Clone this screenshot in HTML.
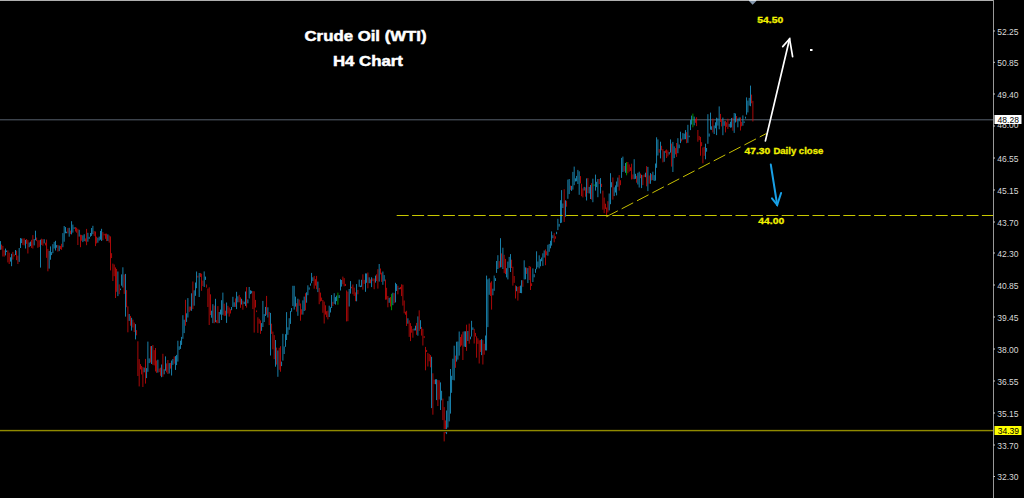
<!DOCTYPE html>
<html><head><meta charset="utf-8"><style>
html,body{margin:0;padding:0;background:#000;width:1024px;height:498px;overflow:hidden}
svg{position:absolute;left:0;top:0;display:block}
.ax{font-family:"Liberation Sans", sans-serif;font-size:9.3px;fill:#d8d8d8}
.t{font-family:"Liberation Sans", sans-serif;font-weight:bold;fill:#fff;font-size:15px;stroke:#fff;stroke-width:0.5px}
.y{font-family:"Liberation Sans", sans-serif;font-weight:bold;fill:#f0f000;font-size:9px;stroke:#f0f000;stroke-width:0.3px}
</style></head><body>
<svg width="1024" height="498" viewBox="0 0 1024 498">
<rect x="0" y="0" width="1024" height="498" fill="#000"/>
<rect x="0" y="0" width="993" height="1" fill="#b0b0b0"/>
<polygon points="749,1 756.4,1 752.6,4.8" fill="#8497ac"/>
<rect x="749" y="0" width="7.4" height="1" fill="#dde3ea"/>
<rect x="0" y="119" width="993" height="1" fill="#3c434c"/><rect x="0" y="120" width="993" height="1" fill="#1a1d21"/>
<g>
<rect x="0.00" y="241.1" width="0.8" height="8.7" fill="#1e9ed2"/>
<rect x="1.25" y="244.6" width="0.8" height="5.0" fill="#d20a0a"/>
<rect x="2.50" y="245.9" width="0.8" height="10.6" fill="#d20a0a"/>
<rect x="3.75" y="250.3" width="0.8" height="6.3" fill="#d20a0a"/>
<rect x="5.00" y="248.6" width="0.8" height="6.8" fill="#1e9ed2"/>
<rect x="6.25" y="250.5" width="0.8" height="1.5" fill="#1e9ed2"/>
<rect x="7.50" y="250.4" width="0.8" height="12.0" fill="#d20a0a"/>
<rect x="8.75" y="252.6" width="0.8" height="11.4" fill="#d20a0a"/>
<rect x="10.00" y="257.3" width="0.8" height="4.3" fill="#1e9ed2"/>
<rect x="11.25" y="253.8" width="0.8" height="12.4" fill="#1e9ed2"/>
<rect x="12.50" y="251.9" width="0.8" height="7.7" fill="#d20a0a"/>
<rect x="13.75" y="254.4" width="0.8" height="2.0" fill="#d20a0a"/>
<rect x="15.00" y="250.0" width="0.8" height="5.0" fill="#1e9ed2"/>
<rect x="16.25" y="250.7" width="0.8" height="9.5" fill="#d20a0a"/>
<rect x="17.50" y="255.6" width="0.8" height="8.4" fill="#d20a0a"/>
<rect x="18.75" y="248.0" width="0.8" height="13.9" fill="#1e9ed2"/>
<rect x="20.00" y="238.1" width="0.8" height="9.9" fill="#1e9ed2"/>
<rect x="21.25" y="238.5" width="0.8" height="4.6" fill="#1e9ed2"/>
<rect x="22.50" y="238.5" width="0.8" height="6.4" fill="#d20a0a"/>
<rect x="23.75" y="238.3" width="0.8" height="7.1" fill="#d20a0a"/>
<rect x="25.00" y="239.9" width="0.8" height="8.6" fill="#1e9ed2"/>
<rect x="26.25" y="239.0" width="0.8" height="4.8" fill="#d20a0a"/>
<rect x="27.50" y="240.1" width="0.8" height="13.4" fill="#d20a0a"/>
<rect x="28.75" y="242.5" width="0.8" height="4.7" fill="#1e9ed2"/>
<rect x="30.00" y="241.6" width="0.8" height="4.5" fill="#1e9ed2"/>
<rect x="31.25" y="239.8" width="0.8" height="8.1" fill="#d20a0a"/>
<rect x="32.50" y="235.1" width="0.8" height="13.5" fill="#d20a0a"/>
<rect x="33.75" y="239.0" width="0.8" height="6.4" fill="#1e9ed2"/>
<rect x="35.00" y="230.7" width="0.8" height="9.5" fill="#1e9ed2"/>
<rect x="36.25" y="237.6" width="0.8" height="3.5" fill="#d20a0a"/>
<rect x="37.50" y="240.3" width="0.8" height="7.5" fill="#d20a0a"/>
<rect x="38.75" y="240.2" width="0.8" height="6.7" fill="#d20a0a"/>
<rect x="40.00" y="239.7" width="0.8" height="27.9" fill="#1e9ed2"/>
<rect x="41.25" y="238.7" width="0.8" height="6.2" fill="#d20a0a"/>
<rect x="42.50" y="239.2" width="0.8" height="6.5" fill="#d20a0a"/>
<rect x="43.75" y="239.2" width="0.8" height="4.2" fill="#1e9ed2"/>
<rect x="45.00" y="242.7" width="0.8" height="2.7" fill="#d20a0a"/>
<rect x="46.25" y="239.6" width="0.8" height="18.2" fill="#d20a0a"/>
<rect x="47.50" y="248.9" width="0.8" height="22.4" fill="#d20a0a"/>
<rect x="48.75" y="250.9" width="0.8" height="17.7" fill="#1e9ed2"/>
<rect x="50.00" y="246.4" width="0.8" height="13.3" fill="#1e9ed2"/>
<rect x="51.25" y="252.1" width="0.8" height="3.0" fill="#1e9ed2"/>
<rect x="52.50" y="244.2" width="0.8" height="9.0" fill="#1e9ed2"/>
<rect x="53.75" y="241.9" width="0.8" height="6.6" fill="#1e9ed2"/>
<rect x="55.00" y="240.8" width="0.8" height="9.7" fill="#1e9ed2"/>
<rect x="56.25" y="245.1" width="0.8" height="2.6" fill="#1e9ed2"/>
<rect x="57.50" y="244.9" width="0.8" height="6.7" fill="#d20a0a"/>
<rect x="58.75" y="245.6" width="0.8" height="5.5" fill="#1e9ed2"/>
<rect x="60.00" y="245.9" width="0.8" height="3.2" fill="#d20a0a"/>
<rect x="61.25" y="243.8" width="0.8" height="6.0" fill="#d20a0a"/>
<rect x="62.50" y="233.1" width="0.8" height="14.1" fill="#1e9ed2"/>
<rect x="63.75" y="226.0" width="0.8" height="15.7" fill="#1e9ed2"/>
<rect x="65.00" y="227.1" width="0.8" height="6.2" fill="#1e9ed2"/>
<rect x="66.25" y="231.7" width="0.8" height="1.5" fill="#1e9ed2"/>
<rect x="67.50" y="228.1" width="0.8" height="5.3" fill="#d20a0a"/>
<rect x="68.75" y="227.8" width="0.8" height="8.9" fill="#1e9ed2"/>
<rect x="70.00" y="230.6" width="0.8" height="3.5" fill="#d20a0a"/>
<rect x="71.25" y="221.2" width="0.8" height="13.2" fill="#1e9ed2"/>
<rect x="72.50" y="224.6" width="0.8" height="8.0" fill="#1e9ed2"/>
<rect x="73.75" y="227.3" width="0.8" height="1.5" fill="#1e9ed2"/>
<rect x="75.00" y="227.1" width="0.8" height="4.4" fill="#d20a0a"/>
<rect x="76.25" y="227.7" width="0.8" height="5.0" fill="#d20a0a"/>
<rect x="77.50" y="228.8" width="0.8" height="16.2" fill="#d20a0a"/>
<rect x="78.75" y="229.8" width="0.8" height="6.8" fill="#1e9ed2"/>
<rect x="80.00" y="234.7" width="0.8" height="12.5" fill="#d20a0a"/>
<rect x="81.25" y="234.9" width="0.8" height="5.8" fill="#d20a0a"/>
<rect x="82.50" y="235.3" width="0.8" height="6.8" fill="#1e9ed2"/>
<rect x="83.75" y="234.2" width="0.8" height="6.9" fill="#1e9ed2"/>
<rect x="85.00" y="238.4" width="0.8" height="3.1" fill="#d20a0a"/>
<rect x="86.25" y="228.9" width="0.8" height="16.3" fill="#d20a0a"/>
<rect x="87.50" y="232.8" width="0.8" height="8.9" fill="#1e9ed2"/>
<rect x="88.75" y="236.8" width="0.8" height="2.1" fill="#1e9ed2"/>
<rect x="90.00" y="233.0" width="0.8" height="3.7" fill="#1e9ed2"/>
<rect x="91.25" y="228.0" width="0.8" height="7.9" fill="#1e9ed2"/>
<rect x="92.50" y="225.8" width="0.8" height="8.4" fill="#1e9ed2"/>
<rect x="93.75" y="231.1" width="0.8" height="5.0" fill="#d20a0a"/>
<rect x="95.00" y="231.5" width="0.8" height="14.6" fill="#d20a0a"/>
<rect x="96.25" y="236.7" width="0.8" height="6.7" fill="#d20a0a"/>
<rect x="97.50" y="237.7" width="0.8" height="5.0" fill="#1e9ed2"/>
<rect x="98.75" y="236.6" width="0.8" height="4.0" fill="#1e9ed2"/>
<rect x="100.00" y="230.9" width="0.8" height="8.8" fill="#1e9ed2"/>
<rect x="101.25" y="228.8" width="0.8" height="12.2" fill="#1e9ed2"/>
<rect x="102.50" y="232.1" width="0.8" height="8.1" fill="#d20a0a"/>
<rect x="103.75" y="233.8" width="0.8" height="1.6" fill="#d20a0a"/>
<rect x="105.00" y="233.7" width="0.8" height="5.1" fill="#d20a0a"/>
<rect x="106.25" y="233.6" width="0.8" height="7.5" fill="#d20a0a"/>
<rect x="107.50" y="234.4" width="0.8" height="6.6" fill="#1e9ed2"/>
<rect x="108.75" y="235.5" width="0.8" height="7.1" fill="#d20a0a"/>
<rect x="110.00" y="236.4" width="0.8" height="34.0" fill="#d20a0a"/>
<rect x="111.25" y="253.2" width="0.8" height="4.9" fill="#d20a0a"/>
<rect x="112.50" y="263.6" width="0.8" height="17.4" fill="#d20a0a"/>
<rect x="113.75" y="264.5" width="0.8" height="11.7" fill="#d20a0a"/>
<rect x="115.00" y="267.4" width="0.8" height="30.6" fill="#d20a0a"/>
<rect x="116.25" y="268.9" width="0.8" height="22.9" fill="#d20a0a"/>
<rect x="117.50" y="271.5" width="0.8" height="24.6" fill="#1e9ed2"/>
<rect x="118.75" y="284.4" width="0.8" height="9.8" fill="#d20a0a"/>
<rect x="120.00" y="288.6" width="0.8" height="1.5" fill="#1e9ed2"/>
<rect x="121.25" y="274.4" width="0.8" height="11.3" fill="#1e9ed2"/>
<rect x="122.50" y="267.3" width="0.8" height="20.2" fill="#1e9ed2"/>
<rect x="123.75" y="274.5" width="0.8" height="19.4" fill="#d20a0a"/>
<rect x="125.00" y="273.9" width="0.8" height="42.7" fill="#1e9ed2"/>
<rect x="126.25" y="290.1" width="0.8" height="17.1" fill="#d20a0a"/>
<rect x="127.50" y="306.4" width="0.8" height="25.9" fill="#d20a0a"/>
<rect x="128.75" y="314.0" width="0.8" height="6.9" fill="#1e9ed2"/>
<rect x="130.00" y="315.9" width="0.8" height="9.8" fill="#d20a0a"/>
<rect x="131.25" y="317.8" width="0.8" height="12.8" fill="#1e9ed2"/>
<rect x="132.50" y="319.6" width="0.8" height="7.9" fill="#d20a0a"/>
<rect x="133.75" y="322.6" width="0.8" height="9.4" fill="#d20a0a"/>
<rect x="135.00" y="324.1" width="0.8" height="15.3" fill="#1e9ed2"/>
<rect x="136.25" y="330.1" width="0.8" height="5.2" fill="#d20a0a"/>
<rect x="137.50" y="341.3" width="0.8" height="34.7" fill="#d20a0a"/>
<rect x="138.75" y="359.1" width="0.8" height="27.3" fill="#d20a0a"/>
<rect x="140.00" y="364.1" width="0.8" height="5.3" fill="#d20a0a"/>
<rect x="141.25" y="365.9" width="0.8" height="8.5" fill="#d20a0a"/>
<rect x="142.50" y="367.1" width="0.8" height="19.9" fill="#d20a0a"/>
<rect x="143.75" y="367.6" width="0.8" height="4.7" fill="#1e9ed2"/>
<rect x="145.00" y="358.9" width="0.8" height="24.7" fill="#d20a0a"/>
<rect x="146.25" y="368.1" width="0.8" height="10.0" fill="#1e9ed2"/>
<rect x="147.50" y="341.6" width="0.8" height="30.2" fill="#1e9ed2"/>
<rect x="148.75" y="358.4" width="0.8" height="4.7" fill="#1e9ed2"/>
<rect x="150.00" y="346.2" width="0.8" height="16.3" fill="#d20a0a"/>
<rect x="151.25" y="346.0" width="0.8" height="18.0" fill="#1e9ed2"/>
<rect x="152.50" y="345.0" width="0.8" height="19.8" fill="#d20a0a"/>
<rect x="153.75" y="350.1" width="0.8" height="15.3" fill="#d20a0a"/>
<rect x="155.00" y="348.0" width="0.8" height="23.4" fill="#d20a0a"/>
<rect x="156.25" y="360.5" width="0.8" height="12.4" fill="#d20a0a"/>
<rect x="157.50" y="359.7" width="0.8" height="12.9" fill="#1e9ed2"/>
<rect x="158.75" y="368.5" width="0.8" height="3.6" fill="#d20a0a"/>
<rect x="160.00" y="367.7" width="0.8" height="8.1" fill="#d20a0a"/>
<rect x="161.25" y="364.5" width="0.8" height="12.7" fill="#1e9ed2"/>
<rect x="162.50" y="353.8" width="0.8" height="23.0" fill="#d20a0a"/>
<rect x="163.75" y="369.2" width="0.8" height="5.1" fill="#1e9ed2"/>
<rect x="165.00" y="356.4" width="0.8" height="14.3" fill="#1e9ed2"/>
<rect x="166.25" y="363.4" width="0.8" height="9.0" fill="#d20a0a"/>
<rect x="167.50" y="360.0" width="0.8" height="14.0" fill="#d20a0a"/>
<rect x="168.75" y="363.1" width="0.8" height="10.4" fill="#1e9ed2"/>
<rect x="170.00" y="362.9" width="0.8" height="5.7" fill="#d20a0a"/>
<rect x="171.25" y="360.5" width="0.8" height="15.0" fill="#1e9ed2"/>
<rect x="172.50" y="359.0" width="0.8" height="5.9" fill="#1e9ed2"/>
<rect x="173.75" y="356.5" width="0.8" height="7.2" fill="#d20a0a"/>
<rect x="175.00" y="356.1" width="0.8" height="13.8" fill="#1e9ed2"/>
<rect x="176.25" y="354.9" width="0.8" height="10.2" fill="#1e9ed2"/>
<rect x="177.50" y="340.7" width="0.8" height="20.9" fill="#1e9ed2"/>
<rect x="178.75" y="346.3" width="0.8" height="3.6" fill="#1e9ed2"/>
<rect x="180.00" y="340.7" width="0.8" height="8.2" fill="#1e9ed2"/>
<rect x="181.25" y="336.9" width="0.8" height="8.0" fill="#1e9ed2"/>
<rect x="182.50" y="315.2" width="0.8" height="23.6" fill="#1e9ed2"/>
<rect x="183.75" y="319.7" width="0.8" height="13.4" fill="#1e9ed2"/>
<rect x="185.00" y="299.8" width="0.8" height="25.9" fill="#d20a0a"/>
<rect x="186.25" y="313.3" width="0.8" height="8.6" fill="#1e9ed2"/>
<rect x="187.50" y="298.1" width="0.8" height="19.4" fill="#1e9ed2"/>
<rect x="188.75" y="306.5" width="0.8" height="5.4" fill="#d20a0a"/>
<rect x="190.00" y="306.6" width="0.8" height="3.9" fill="#d20a0a"/>
<rect x="191.25" y="293.3" width="0.8" height="17.5" fill="#1e9ed2"/>
<rect x="192.50" y="281.5" width="0.8" height="27.5" fill="#d20a0a"/>
<rect x="193.75" y="290.3" width="0.8" height="15.4" fill="#1e9ed2"/>
<rect x="195.00" y="282.5" width="0.8" height="13.3" fill="#1e9ed2"/>
<rect x="196.25" y="271.5" width="0.8" height="16.7" fill="#1e9ed2"/>
<rect x="197.50" y="275.7" width="0.8" height="1.9" fill="#d20a0a"/>
<rect x="198.75" y="273.0" width="0.8" height="24.0" fill="#1e9ed2"/>
<rect x="200.00" y="273.1" width="0.8" height="3.8" fill="#d20a0a"/>
<rect x="201.25" y="273.7" width="0.8" height="17.1" fill="#d20a0a"/>
<rect x="202.50" y="280.6" width="0.8" height="5.4" fill="#d20a0a"/>
<rect x="203.75" y="271.4" width="0.8" height="15.6" fill="#1e9ed2"/>
<rect x="205.00" y="276.6" width="0.8" height="3.3" fill="#1e9ed2"/>
<rect x="206.25" y="284.5" width="0.8" height="3.2" fill="#d20a0a"/>
<rect x="207.50" y="288.6" width="0.8" height="18.4" fill="#d20a0a"/>
<rect x="208.75" y="287.3" width="0.8" height="37.7" fill="#d20a0a"/>
<rect x="210.00" y="294.3" width="0.8" height="20.8" fill="#d20a0a"/>
<rect x="211.25" y="310.7" width="0.8" height="7.0" fill="#1e9ed2"/>
<rect x="212.50" y="304.2" width="0.8" height="18.9" fill="#1e9ed2"/>
<rect x="213.75" y="305.6" width="0.8" height="17.7" fill="#d20a0a"/>
<rect x="215.00" y="298.8" width="0.8" height="23.4" fill="#1e9ed2"/>
<rect x="216.25" y="320.1" width="0.8" height="2.6" fill="#d20a0a"/>
<rect x="217.50" y="306.1" width="0.8" height="17.2" fill="#d20a0a"/>
<rect x="218.75" y="312.0" width="0.8" height="11.1" fill="#1e9ed2"/>
<rect x="220.00" y="309.6" width="0.8" height="4.9" fill="#1e9ed2"/>
<rect x="221.25" y="300.2" width="0.8" height="19.8" fill="#1e9ed2"/>
<rect x="222.50" y="292.6" width="0.8" height="22.2" fill="#1e9ed2"/>
<rect x="223.75" y="303.7" width="0.8" height="12.2" fill="#d20a0a"/>
<rect x="225.00" y="310.7" width="0.8" height="5.0" fill="#d20a0a"/>
<rect x="226.25" y="302.5" width="0.8" height="20.4" fill="#1e9ed2"/>
<rect x="227.50" y="305.8" width="0.8" height="7.7" fill="#d20a0a"/>
<rect x="228.75" y="307.5" width="0.8" height="9.1" fill="#d20a0a"/>
<rect x="230.00" y="309.2" width="0.8" height="4.3" fill="#d20a0a"/>
<rect x="231.25" y="307.0" width="0.8" height="3.2" fill="#1e9ed2"/>
<rect x="232.50" y="296.8" width="0.8" height="10.1" fill="#1e9ed2"/>
<rect x="233.75" y="302.3" width="0.8" height="4.6" fill="#1e9ed2"/>
<rect x="235.00" y="298.4" width="0.8" height="8.5" fill="#d20a0a"/>
<rect x="236.25" y="291.8" width="0.8" height="17.3" fill="#1e9ed2"/>
<rect x="237.50" y="296.3" width="0.8" height="6.0" fill="#1e9ed2"/>
<rect x="238.75" y="294.9" width="0.8" height="7.4" fill="#d20a0a"/>
<rect x="240.00" y="297.3" width="0.8" height="10.5" fill="#d20a0a"/>
<rect x="241.25" y="298.8" width="0.8" height="5.7" fill="#1e9ed2"/>
<rect x="242.50" y="300.6" width="0.8" height="9.1" fill="#d20a0a"/>
<rect x="243.75" y="301.7" width="0.8" height="2.3" fill="#1e9ed2"/>
<rect x="245.00" y="291.5" width="0.8" height="14.4" fill="#1e9ed2"/>
<rect x="246.25" y="287.1" width="0.8" height="20.5" fill="#d20a0a"/>
<rect x="247.50" y="299.4" width="0.8" height="3.9" fill="#1e9ed2"/>
<rect x="248.75" y="287.0" width="0.8" height="11.5" fill="#1e9ed2"/>
<rect x="250.00" y="290.3" width="0.8" height="3.8" fill="#1e9ed2"/>
<rect x="251.25" y="290.8" width="0.8" height="2.6" fill="#1e9ed2"/>
<rect x="252.50" y="291.0" width="0.8" height="18.1" fill="#d20a0a"/>
<rect x="253.75" y="291.3" width="0.8" height="41.3" fill="#d20a0a"/>
<rect x="255.00" y="299.9" width="0.8" height="7.6" fill="#d20a0a"/>
<rect x="256.25" y="310.4" width="0.8" height="1.7" fill="#d20a0a"/>
<rect x="257.50" y="317.3" width="0.8" height="15.6" fill="#d20a0a"/>
<rect x="258.75" y="318.8" width="0.8" height="4.9" fill="#d20a0a"/>
<rect x="260.00" y="320.4" width="0.8" height="13.4" fill="#d20a0a"/>
<rect x="261.25" y="323.1" width="0.8" height="7.7" fill="#1e9ed2"/>
<rect x="262.50" y="300.9" width="0.8" height="26.1" fill="#1e9ed2"/>
<rect x="263.75" y="314.1" width="0.8" height="7.9" fill="#1e9ed2"/>
<rect x="265.00" y="306.9" width="0.8" height="9.1" fill="#1e9ed2"/>
<rect x="266.25" y="295.9" width="0.8" height="18.9" fill="#d20a0a"/>
<rect x="267.50" y="307.3" width="0.8" height="10.2" fill="#1e9ed2"/>
<rect x="268.75" y="312.0" width="0.8" height="13.1" fill="#d20a0a"/>
<rect x="270.00" y="312.9" width="0.8" height="42.6" fill="#1e9ed2"/>
<rect x="271.25" y="323.7" width="0.8" height="10.2" fill="#d20a0a"/>
<rect x="272.50" y="331.6" width="0.8" height="17.7" fill="#d20a0a"/>
<rect x="273.75" y="335.1" width="0.8" height="24.1" fill="#d20a0a"/>
<rect x="275.00" y="340.0" width="0.8" height="26.7" fill="#1e9ed2"/>
<rect x="276.25" y="347.6" width="0.8" height="17.0" fill="#d20a0a"/>
<rect x="277.50" y="350.5" width="0.8" height="26.3" fill="#1e9ed2"/>
<rect x="278.75" y="347.8" width="0.8" height="22.0" fill="#d20a0a"/>
<rect x="280.00" y="346.2" width="0.8" height="25.5" fill="#d20a0a"/>
<rect x="281.25" y="361.6" width="0.8" height="4.5" fill="#1e9ed2"/>
<rect x="282.50" y="333.8" width="0.8" height="26.8" fill="#1e9ed2"/>
<rect x="283.75" y="346.4" width="0.8" height="7.6" fill="#1e9ed2"/>
<rect x="285.00" y="334.2" width="0.8" height="12.6" fill="#1e9ed2"/>
<rect x="286.25" y="312.1" width="0.8" height="27.9" fill="#1e9ed2"/>
<rect x="287.50" y="327.3" width="0.8" height="7.5" fill="#1e9ed2"/>
<rect x="288.75" y="318.2" width="0.8" height="11.6" fill="#1e9ed2"/>
<rect x="290.00" y="311.1" width="0.8" height="12.8" fill="#1e9ed2"/>
<rect x="291.25" y="308.0" width="0.8" height="3.7" fill="#1e9ed2"/>
<rect x="292.50" y="285.8" width="0.8" height="20.2" fill="#1e9ed2"/>
<rect x="293.75" y="285.8" width="0.8" height="23.8" fill="#1e9ed2"/>
<rect x="295.00" y="296.6" width="0.8" height="10.0" fill="#1e9ed2"/>
<rect x="296.25" y="303.2" width="0.8" height="8.4" fill="#d20a0a"/>
<rect x="297.50" y="298.7" width="0.8" height="17.1" fill="#1e9ed2"/>
<rect x="298.75" y="299.6" width="0.8" height="6.2" fill="#d20a0a"/>
<rect x="300.00" y="303.5" width="0.8" height="17.2" fill="#d20a0a"/>
<rect x="301.25" y="309.3" width="0.8" height="5.3" fill="#d20a0a"/>
<rect x="302.50" y="300.4" width="0.8" height="14.2" fill="#1e9ed2"/>
<rect x="303.75" y="296.6" width="0.8" height="14.4" fill="#1e9ed2"/>
<rect x="305.00" y="293.2" width="0.8" height="17.1" fill="#d20a0a"/>
<rect x="306.25" y="292.3" width="0.8" height="10.4" fill="#1e9ed2"/>
<rect x="307.50" y="285.3" width="0.8" height="9.9" fill="#1e9ed2"/>
<rect x="308.75" y="287.4" width="0.8" height="2.3" fill="#1e9ed2"/>
<rect x="310.00" y="283.4" width="0.8" height="2.3" fill="#1e9ed2"/>
<rect x="311.25" y="272.9" width="0.8" height="10.3" fill="#1e9ed2"/>
<rect x="312.50" y="277.3" width="0.8" height="3.7" fill="#1e9ed2"/>
<rect x="313.75" y="275.9" width="0.8" height="12.8" fill="#d20a0a"/>
<rect x="315.00" y="279.2" width="0.8" height="6.4" fill="#d20a0a"/>
<rect x="316.25" y="275.9" width="0.8" height="13.3" fill="#d20a0a"/>
<rect x="317.50" y="281.6" width="0.8" height="10.5" fill="#1e9ed2"/>
<rect x="318.75" y="287.9" width="0.8" height="16.3" fill="#d20a0a"/>
<rect x="320.00" y="292.6" width="0.8" height="8.9" fill="#d20a0a"/>
<rect x="321.25" y="297.6" width="0.8" height="3.3" fill="#d20a0a"/>
<rect x="322.50" y="300.0" width="0.8" height="12.8" fill="#d20a0a"/>
<rect x="323.75" y="301.6" width="0.8" height="21.9" fill="#d20a0a"/>
<rect x="325.00" y="305.3" width="0.8" height="9.3" fill="#d20a0a"/>
<rect x="326.25" y="311.2" width="0.8" height="6.0" fill="#d20a0a"/>
<rect x="327.50" y="310.6" width="0.8" height="8.8" fill="#d20a0a"/>
<rect x="328.75" y="305.7" width="0.8" height="11.3" fill="#1e9ed2"/>
<rect x="330.00" y="307.3" width="0.8" height="5.2" fill="#1e9ed2"/>
<rect x="331.25" y="295.0" width="0.8" height="13.0" fill="#1e9ed2"/>
<rect x="332.50" y="301.8" width="0.8" height="4.1" fill="#d20a0a"/>
<rect x="333.75" y="293.2" width="0.8" height="10.7" fill="#1e9ed2"/>
<rect x="335.00" y="297.1" width="0.8" height="7.5" fill="#1e9ed2"/>
<rect x="336.25" y="295.6" width="0.8" height="5.5" fill="#1e9ed2"/>
<rect x="337.50" y="292.6" width="0.8" height="12.1" fill="#00b400"/>
<rect x="338.75" y="295.1" width="0.8" height="2.9" fill="#1e9ed2"/>
<rect x="340.00" y="279.3" width="0.8" height="11.2" fill="#1e9ed2"/>
<rect x="341.25" y="280.0" width="0.8" height="6.6" fill="#1e9ed2"/>
<rect x="342.50" y="276.6" width="0.8" height="7.6" fill="#d20a0a"/>
<rect x="343.75" y="278.1" width="0.8" height="8.2" fill="#d20a0a"/>
<rect x="345.00" y="283.9" width="0.8" height="2.1" fill="#d20a0a"/>
<rect x="346.25" y="290.4" width="0.8" height="31.0" fill="#d20a0a"/>
<rect x="347.50" y="291.6" width="0.8" height="29.6" fill="#d20a0a"/>
<rect x="348.75" y="289.0" width="0.8" height="17.5" fill="#1e9ed2"/>
<rect x="350.00" y="281.1" width="0.8" height="12.5" fill="#1e9ed2"/>
<rect x="351.25" y="286.8" width="0.8" height="1.5" fill="#d20a0a"/>
<rect x="352.50" y="284.5" width="0.8" height="9.7" fill="#d20a0a"/>
<rect x="353.75" y="287.6" width="0.8" height="8.3" fill="#d20a0a"/>
<rect x="355.00" y="292.4" width="0.8" height="8.8" fill="#d20a0a"/>
<rect x="356.25" y="284.1" width="0.8" height="17.2" fill="#1e9ed2"/>
<rect x="357.50" y="289.9" width="0.8" height="4.4" fill="#d20a0a"/>
<rect x="358.75" y="279.6" width="0.8" height="7.2" fill="#1e9ed2"/>
<rect x="360.00" y="285.6" width="0.8" height="1.5" fill="#1e9ed2"/>
<rect x="361.25" y="279.8" width="0.8" height="7.1" fill="#1e9ed2"/>
<rect x="362.50" y="274.3" width="0.8" height="15.4" fill="#d20a0a"/>
<rect x="363.75" y="279.9" width="0.8" height="4.0" fill="#d20a0a"/>
<rect x="365.00" y="273.4" width="0.8" height="18.4" fill="#1e9ed2"/>
<rect x="366.25" y="273.5" width="0.8" height="9.3" fill="#1e9ed2"/>
<rect x="367.50" y="272.5" width="0.8" height="15.8" fill="#d20a0a"/>
<rect x="368.75" y="277.3" width="0.8" height="5.9" fill="#1e9ed2"/>
<rect x="370.00" y="279.4" width="0.8" height="3.8" fill="#d20a0a"/>
<rect x="371.25" y="277.3" width="0.8" height="9.8" fill="#1e9ed2"/>
<rect x="372.50" y="278.4" width="0.8" height="2.7" fill="#d20a0a"/>
<rect x="373.75" y="278.5" width="0.8" height="10.7" fill="#d20a0a"/>
<rect x="375.00" y="275.6" width="0.8" height="7.0" fill="#1e9ed2"/>
<rect x="376.25" y="274.3" width="0.8" height="6.7" fill="#d20a0a"/>
<rect x="377.50" y="269.2" width="0.8" height="19.4" fill="#d20a0a"/>
<rect x="378.75" y="264.0" width="0.8" height="17.6" fill="#1e9ed2"/>
<rect x="380.00" y="268.5" width="0.8" height="5.9" fill="#d20a0a"/>
<rect x="381.25" y="272.7" width="0.8" height="9.2" fill="#d20a0a"/>
<rect x="382.50" y="271.5" width="0.8" height="13.3" fill="#1e9ed2"/>
<rect x="383.75" y="275.1" width="0.8" height="6.1" fill="#1e9ed2"/>
<rect x="385.00" y="279.5" width="0.8" height="20.2" fill="#d20a0a"/>
<rect x="386.25" y="287.8" width="0.8" height="11.7" fill="#d20a0a"/>
<rect x="387.50" y="296.0" width="0.8" height="11.3" fill="#d20a0a"/>
<rect x="388.75" y="297.8" width="0.8" height="5.0" fill="#1e9ed2"/>
<rect x="390.00" y="297.1" width="0.8" height="9.4" fill="#d20a0a"/>
<rect x="391.25" y="293.8" width="0.8" height="16.4" fill="#00b400"/>
<rect x="392.50" y="292.7" width="0.8" height="12.5" fill="#1e9ed2"/>
<rect x="393.75" y="293.1" width="0.8" height="10.1" fill="#d20a0a"/>
<rect x="395.00" y="282.8" width="0.8" height="19.6" fill="#1e9ed2"/>
<rect x="396.25" y="284.1" width="0.8" height="6.9" fill="#1e9ed2"/>
<rect x="397.50" y="285.7" width="0.8" height="8.6" fill="#d20a0a"/>
<rect x="398.75" y="287.8" width="0.8" height="1.5" fill="#1e9ed2"/>
<rect x="400.00" y="286.9" width="0.8" height="2.3" fill="#d20a0a"/>
<rect x="401.25" y="284.3" width="0.8" height="11.8" fill="#d20a0a"/>
<rect x="402.50" y="284.7" width="0.8" height="20.9" fill="#d20a0a"/>
<rect x="403.75" y="300.5" width="0.8" height="12.8" fill="#d20a0a"/>
<rect x="405.00" y="311.7" width="0.8" height="3.0" fill="#d20a0a"/>
<rect x="406.25" y="310.8" width="0.8" height="15.2" fill="#d20a0a"/>
<rect x="407.50" y="318.3" width="0.8" height="5.4" fill="#1e9ed2"/>
<rect x="408.75" y="320.3" width="0.8" height="16.6" fill="#d20a0a"/>
<rect x="410.00" y="323.1" width="0.8" height="18.0" fill="#d20a0a"/>
<rect x="411.25" y="326.1" width="0.8" height="6.6" fill="#d20a0a"/>
<rect x="412.50" y="329.0" width="0.8" height="8.7" fill="#d20a0a"/>
<rect x="413.75" y="328.5" width="0.8" height="2.0" fill="#1e9ed2"/>
<rect x="415.00" y="325.7" width="0.8" height="4.7" fill="#1e9ed2"/>
<rect x="416.25" y="322.9" width="0.8" height="11.9" fill="#d20a0a"/>
<rect x="417.50" y="316.4" width="0.8" height="19.3" fill="#1e9ed2"/>
<rect x="418.75" y="310.3" width="0.8" height="20.6" fill="#d20a0a"/>
<rect x="420.00" y="320.2" width="0.8" height="8.7" fill="#1e9ed2"/>
<rect x="421.25" y="327.0" width="0.8" height="8.6" fill="#d20a0a"/>
<rect x="422.50" y="328.8" width="0.8" height="16.7" fill="#d20a0a"/>
<rect x="423.75" y="336.0" width="0.8" height="2.1" fill="#d20a0a"/>
<rect x="425.00" y="346.9" width="0.8" height="23.4" fill="#d20a0a"/>
<rect x="426.25" y="349.9" width="0.8" height="2.1" fill="#d20a0a"/>
<rect x="427.50" y="352.9" width="0.8" height="13.6" fill="#d20a0a"/>
<rect x="428.75" y="354.0" width="0.8" height="7.3" fill="#d20a0a"/>
<rect x="430.00" y="355.1" width="0.8" height="12.2" fill="#d20a0a"/>
<rect x="431.25" y="356.8" width="0.8" height="51.3" fill="#1e9ed2"/>
<rect x="432.50" y="373.3" width="0.8" height="41.4" fill="#d20a0a"/>
<rect x="433.75" y="379.7" width="0.8" height="4.4" fill="#d20a0a"/>
<rect x="435.00" y="379.3" width="0.8" height="4.9" fill="#1e9ed2"/>
<rect x="436.25" y="379.2" width="0.8" height="20.9" fill="#1e9ed2"/>
<rect x="437.50" y="380.0" width="0.8" height="26.0" fill="#d20a0a"/>
<rect x="438.75" y="380.3" width="0.8" height="19.2" fill="#d20a0a"/>
<rect x="440.00" y="382.4" width="0.8" height="27.6" fill="#1e9ed2"/>
<rect x="441.25" y="390.8" width="0.8" height="9.5" fill="#1e9ed2"/>
<rect x="442.50" y="398.6" width="0.8" height="21.5" fill="#d20a0a"/>
<rect x="443.75" y="407.1" width="0.8" height="34.3" fill="#d20a0a"/>
<rect x="445.00" y="420.4" width="0.8" height="12.8" fill="#d20a0a"/>
<rect x="446.25" y="410.5" width="0.8" height="23.6" fill="#1e9ed2"/>
<rect x="447.50" y="401.1" width="0.8" height="26.4" fill="#1e9ed2"/>
<rect x="448.75" y="396.4" width="0.8" height="25.0" fill="#1e9ed2"/>
<rect x="450.00" y="369.0" width="0.8" height="44.6" fill="#1e9ed2"/>
<rect x="451.25" y="375.8" width="0.8" height="17.0" fill="#1e9ed2"/>
<rect x="452.50" y="358.7" width="0.8" height="21.2" fill="#1e9ed2"/>
<rect x="453.75" y="345.7" width="0.8" height="34.7" fill="#1e9ed2"/>
<rect x="455.00" y="355.6" width="0.8" height="12.2" fill="#d20a0a"/>
<rect x="456.25" y="341.7" width="0.8" height="19.9" fill="#1e9ed2"/>
<rect x="457.50" y="341.5" width="0.8" height="18.1" fill="#1e9ed2"/>
<rect x="458.75" y="331.5" width="0.8" height="24.1" fill="#1e9ed2"/>
<rect x="460.00" y="337.0" width="0.8" height="9.7" fill="#d20a0a"/>
<rect x="461.25" y="334.4" width="0.8" height="11.1" fill="#d20a0a"/>
<rect x="462.50" y="331.7" width="0.8" height="28.3" fill="#d20a0a"/>
<rect x="463.75" y="331.3" width="0.8" height="15.3" fill="#1e9ed2"/>
<rect x="465.00" y="331.3" width="0.8" height="15.7" fill="#1e9ed2"/>
<rect x="466.25" y="324.7" width="0.8" height="26.2" fill="#d20a0a"/>
<rect x="467.50" y="331.0" width="0.8" height="10.0" fill="#1e9ed2"/>
<rect x="468.75" y="323.6" width="0.8" height="20.1" fill="#d20a0a"/>
<rect x="470.00" y="336.6" width="0.8" height="2.7" fill="#1e9ed2"/>
<rect x="471.25" y="320.8" width="0.8" height="15.8" fill="#1e9ed2"/>
<rect x="472.50" y="327.4" width="0.8" height="2.5" fill="#1e9ed2"/>
<rect x="473.75" y="328.8" width="0.8" height="14.7" fill="#d20a0a"/>
<rect x="475.00" y="332.9" width="0.8" height="3.6" fill="#d20a0a"/>
<rect x="476.25" y="336.3" width="0.8" height="21.4" fill="#d20a0a"/>
<rect x="477.50" y="338.3" width="0.8" height="5.6" fill="#d20a0a"/>
<rect x="478.75" y="340.3" width="0.8" height="23.2" fill="#d20a0a"/>
<rect x="480.00" y="340.0" width="0.8" height="12.0" fill="#d20a0a"/>
<rect x="481.25" y="339.1" width="0.8" height="16.0" fill="#1e9ed2"/>
<rect x="482.50" y="340.1" width="0.8" height="24.4" fill="#d20a0a"/>
<rect x="483.75" y="343.8" width="0.8" height="10.9" fill="#d20a0a"/>
<rect x="485.00" y="335.5" width="0.8" height="14.9" fill="#1e9ed2"/>
<rect x="486.25" y="275.6" width="0.8" height="74.9" fill="#1e9ed2"/>
<rect x="487.50" y="279.3" width="0.8" height="47.8" fill="#1e9ed2"/>
<rect x="488.75" y="278.3" width="0.8" height="16.5" fill="#1e9ed2"/>
<rect x="490.00" y="282.6" width="0.8" height="13.3" fill="#d20a0a"/>
<rect x="491.25" y="281.3" width="0.8" height="28.3" fill="#d20a0a"/>
<rect x="492.50" y="288.7" width="0.8" height="6.6" fill="#1e9ed2"/>
<rect x="493.75" y="275.6" width="0.8" height="15.2" fill="#1e9ed2"/>
<rect x="495.00" y="278.2" width="0.8" height="2.8" fill="#1e9ed2"/>
<rect x="496.25" y="261.0" width="0.8" height="11.9" fill="#1e9ed2"/>
<rect x="497.50" y="255.2" width="0.8" height="13.8" fill="#1e9ed2"/>
<rect x="498.75" y="261.1" width="0.8" height="6.8" fill="#d20a0a"/>
<rect x="500.00" y="238.2" width="0.8" height="29.2" fill="#1e9ed2"/>
<rect x="501.25" y="253.4" width="0.8" height="13.8" fill="#d20a0a"/>
<rect x="502.50" y="247.7" width="0.8" height="21.3" fill="#1e9ed2"/>
<rect x="503.75" y="254.8" width="0.8" height="18.3" fill="#d20a0a"/>
<rect x="505.00" y="258.9" width="0.8" height="15.2" fill="#d20a0a"/>
<rect x="506.25" y="268.2" width="0.8" height="9.2" fill="#1e9ed2"/>
<rect x="507.50" y="261.6" width="0.8" height="17.8" fill="#1e9ed2"/>
<rect x="508.75" y="256.9" width="0.8" height="11.0" fill="#1e9ed2"/>
<rect x="510.00" y="254.1" width="0.8" height="17.9" fill="#1e9ed2"/>
<rect x="511.25" y="259.7" width="0.8" height="8.3" fill="#d20a0a"/>
<rect x="512.50" y="266.7" width="0.8" height="18.9" fill="#d20a0a"/>
<rect x="513.75" y="276.0" width="0.8" height="6.9" fill="#d20a0a"/>
<rect x="515.00" y="285.4" width="0.8" height="13.1" fill="#d20a0a"/>
<rect x="516.25" y="286.2" width="0.8" height="5.0" fill="#1e9ed2"/>
<rect x="517.50" y="287.0" width="0.8" height="13.6" fill="#d20a0a"/>
<rect x="518.75" y="286.2" width="0.8" height="6.9" fill="#d20a0a"/>
<rect x="520.00" y="285.6" width="0.8" height="7.4" fill="#1e9ed2"/>
<rect x="521.25" y="280.2" width="0.8" height="13.0" fill="#1e9ed2"/>
<rect x="522.50" y="280.2" width="0.8" height="6.6" fill="#d20a0a"/>
<rect x="523.75" y="260.3" width="0.8" height="19.2" fill="#1e9ed2"/>
<rect x="525.00" y="267.4" width="0.8" height="11.9" fill="#1e9ed2"/>
<rect x="526.25" y="267.6" width="0.8" height="6.3" fill="#d20a0a"/>
<rect x="527.50" y="268.1" width="0.8" height="15.0" fill="#1e9ed2"/>
<rect x="528.75" y="266.0" width="0.8" height="14.1" fill="#d20a0a"/>
<rect x="530.00" y="266.7" width="0.8" height="23.3" fill="#d20a0a"/>
<rect x="531.25" y="283.3" width="0.8" height="2.7" fill="#d20a0a"/>
<rect x="532.50" y="268.4" width="0.8" height="13.6" fill="#1e9ed2"/>
<rect x="533.75" y="274.2" width="0.8" height="3.1" fill="#1e9ed2"/>
<rect x="535.00" y="268.9" width="0.8" height="3.9" fill="#1e9ed2"/>
<rect x="536.25" y="251.3" width="0.8" height="17.9" fill="#1e9ed2"/>
<rect x="537.50" y="261.5" width="0.8" height="5.8" fill="#1e9ed2"/>
<rect x="538.75" y="255.3" width="0.8" height="13.1" fill="#1e9ed2"/>
<rect x="540.00" y="259.2" width="0.8" height="7.1" fill="#1e9ed2"/>
<rect x="541.25" y="257.5" width="0.8" height="3.7" fill="#1e9ed2"/>
<rect x="542.50" y="253.3" width="0.8" height="12.6" fill="#1e9ed2"/>
<rect x="543.75" y="250.5" width="0.8" height="7.1" fill="#1e9ed2"/>
<rect x="545.00" y="249.4" width="0.8" height="15.8" fill="#d20a0a"/>
<rect x="546.25" y="251.3" width="0.8" height="3.9" fill="#d20a0a"/>
<rect x="547.50" y="244.8" width="0.8" height="10.9" fill="#1e9ed2"/>
<rect x="548.75" y="243.9" width="0.8" height="7.9" fill="#1e9ed2"/>
<rect x="550.00" y="240.8" width="0.8" height="7.5" fill="#1e9ed2"/>
<rect x="551.25" y="231.4" width="0.8" height="14.2" fill="#1e9ed2"/>
<rect x="552.50" y="235.2" width="0.8" height="3.0" fill="#1e9ed2"/>
<rect x="553.75" y="233.2" width="0.8" height="9.1" fill="#d20a0a"/>
<rect x="555.00" y="236.3" width="0.8" height="2.4" fill="#d20a0a"/>
<rect x="556.25" y="231.8" width="0.8" height="2.4" fill="#1e9ed2"/>
<rect x="557.50" y="218.8" width="0.8" height="11.3" fill="#1e9ed2"/>
<rect x="558.75" y="223.9" width="0.8" height="2.7" fill="#1e9ed2"/>
<rect x="560.00" y="200.2" width="0.8" height="22.9" fill="#1e9ed2"/>
<rect x="561.25" y="190.1" width="0.8" height="32.6" fill="#1e9ed2"/>
<rect x="562.50" y="203.5" width="0.8" height="4.5" fill="#1e9ed2"/>
<rect x="563.75" y="189.2" width="0.8" height="32.8" fill="#d20a0a"/>
<rect x="565.00" y="200.3" width="0.8" height="16.4" fill="#1e9ed2"/>
<rect x="566.25" y="200.8" width="0.8" height="5.9" fill="#d20a0a"/>
<rect x="567.50" y="179.6" width="0.8" height="19.2" fill="#1e9ed2"/>
<rect x="568.75" y="179.0" width="0.8" height="15.1" fill="#1e9ed2"/>
<rect x="570.00" y="185.6" width="0.8" height="4.3" fill="#d20a0a"/>
<rect x="571.25" y="185.9" width="0.8" height="5.0" fill="#1e9ed2"/>
<rect x="572.50" y="171.9" width="0.8" height="17.7" fill="#1e9ed2"/>
<rect x="573.75" y="166.6" width="0.8" height="18.6" fill="#1e9ed2"/>
<rect x="575.00" y="178.3" width="0.8" height="3.2" fill="#1e9ed2"/>
<rect x="576.25" y="175.9" width="0.8" height="5.4" fill="#1e9ed2"/>
<rect x="577.50" y="169.9" width="0.8" height="14.1" fill="#1e9ed2"/>
<rect x="578.75" y="171.3" width="0.8" height="23.5" fill="#1e9ed2"/>
<rect x="580.00" y="176.1" width="0.8" height="7.3" fill="#d20a0a"/>
<rect x="581.25" y="183.7" width="0.8" height="12.5" fill="#d20a0a"/>
<rect x="582.50" y="188.4" width="0.8" height="9.0" fill="#d20a0a"/>
<rect x="583.75" y="186.9" width="0.8" height="3.6" fill="#1e9ed2"/>
<rect x="585.00" y="187.4" width="0.8" height="9.3" fill="#d20a0a"/>
<rect x="586.25" y="178.4" width="0.8" height="22.1" fill="#1e9ed2"/>
<rect x="587.50" y="178.1" width="0.8" height="15.0" fill="#d20a0a"/>
<rect x="588.75" y="186.9" width="0.8" height="6.6" fill="#1e9ed2"/>
<rect x="590.00" y="185.0" width="0.8" height="14.0" fill="#1e9ed2"/>
<rect x="591.25" y="183.2" width="0.8" height="16.4" fill="#d20a0a"/>
<rect x="592.50" y="178.7" width="0.8" height="23.5" fill="#1e9ed2"/>
<rect x="593.75" y="184.4" width="0.8" height="1.7" fill="#00b400"/>
<rect x="595.00" y="174.6" width="0.8" height="16.0" fill="#1e9ed2"/>
<rect x="596.25" y="181.8" width="0.8" height="5.3" fill="#1e9ed2"/>
<rect x="597.50" y="179.0" width="0.8" height="18.2" fill="#1e9ed2"/>
<rect x="598.75" y="179.0" width="0.8" height="5.0" fill="#d20a0a"/>
<rect x="600.00" y="178.1" width="0.8" height="15.4" fill="#1e9ed2"/>
<rect x="601.25" y="183.8" width="0.8" height="3.2" fill="#d20a0a"/>
<rect x="602.50" y="190.6" width="0.8" height="19.1" fill="#d20a0a"/>
<rect x="603.75" y="197.6" width="0.8" height="15.5" fill="#d20a0a"/>
<rect x="605.00" y="203.7" width="0.8" height="5.2" fill="#d20a0a"/>
<rect x="606.25" y="207.5" width="0.8" height="7.7" fill="#d20a0a"/>
<rect x="607.50" y="201.2" width="0.8" height="11.2" fill="#d20a0a"/>
<rect x="608.75" y="193.5" width="0.8" height="16.9" fill="#1e9ed2"/>
<rect x="610.00" y="173.2" width="0.8" height="31.0" fill="#1e9ed2"/>
<rect x="611.25" y="182.2" width="0.8" height="5.1" fill="#1e9ed2"/>
<rect x="612.50" y="177.5" width="0.8" height="22.1" fill="#d20a0a"/>
<rect x="613.75" y="187.3" width="0.8" height="8.8" fill="#1e9ed2"/>
<rect x="615.00" y="185.4" width="0.8" height="7.1" fill="#1e9ed2"/>
<rect x="616.25" y="181.5" width="0.8" height="13.9" fill="#1e9ed2"/>
<rect x="617.50" y="177.6" width="0.8" height="9.2" fill="#1e9ed2"/>
<rect x="618.75" y="175.1" width="0.8" height="15.5" fill="#d20a0a"/>
<rect x="620.00" y="180.2" width="0.8" height="5.0" fill="#d20a0a"/>
<rect x="621.25" y="157.9" width="0.8" height="20.0" fill="#1e9ed2"/>
<rect x="622.50" y="156.6" width="0.8" height="15.4" fill="#1e9ed2"/>
<rect x="623.75" y="166.0" width="0.8" height="5.4" fill="#d20a0a"/>
<rect x="625.00" y="163.0" width="0.8" height="9.8" fill="#1e9ed2"/>
<rect x="626.25" y="162.0" width="0.8" height="13.3" fill="#00b400"/>
<rect x="627.50" y="162.0" width="0.8" height="11.3" fill="#d20a0a"/>
<rect x="628.75" y="164.4" width="0.8" height="7.3" fill="#d20a0a"/>
<rect x="630.00" y="167.3" width="0.8" height="3.6" fill="#d20a0a"/>
<rect x="631.25" y="163.7" width="0.8" height="15.8" fill="#d20a0a"/>
<rect x="632.50" y="174.4" width="0.8" height="4.8" fill="#d20a0a"/>
<rect x="633.75" y="159.2" width="0.8" height="20.0" fill="#1e9ed2"/>
<rect x="635.00" y="173.8" width="0.8" height="5.0" fill="#1e9ed2"/>
<rect x="636.25" y="175.8" width="0.8" height="6.9" fill="#d20a0a"/>
<rect x="637.50" y="172.8" width="0.8" height="11.7" fill="#1e9ed2"/>
<rect x="638.75" y="171.7" width="0.8" height="15.8" fill="#1e9ed2"/>
<rect x="640.00" y="173.5" width="0.8" height="4.7" fill="#d20a0a"/>
<rect x="641.25" y="174.8" width="0.8" height="13.3" fill="#1e9ed2"/>
<rect x="642.50" y="175.2" width="0.8" height="9.9" fill="#d20a0a"/>
<rect x="643.75" y="174.4" width="0.8" height="2.6" fill="#d20a0a"/>
<rect x="645.00" y="172.7" width="0.8" height="4.5" fill="#1e9ed2"/>
<rect x="646.25" y="166.1" width="0.8" height="20.2" fill="#d20a0a"/>
<rect x="647.50" y="166.9" width="0.8" height="24.2" fill="#1e9ed2"/>
<rect x="648.75" y="175.5" width="0.8" height="8.2" fill="#d20a0a"/>
<rect x="650.00" y="173.1" width="0.8" height="10.7" fill="#1e9ed2"/>
<rect x="651.25" y="174.2" width="0.8" height="6.2" fill="#d20a0a"/>
<rect x="652.50" y="171.7" width="0.8" height="8.4" fill="#1e9ed2"/>
<rect x="653.75" y="175.1" width="0.8" height="5.9" fill="#1e9ed2"/>
<rect x="655.00" y="163.5" width="0.8" height="17.1" fill="#1e9ed2"/>
<rect x="656.25" y="137.3" width="0.8" height="30.5" fill="#1e9ed2"/>
<rect x="657.50" y="139.4" width="0.8" height="16.1" fill="#1e9ed2"/>
<rect x="658.75" y="149.1" width="0.8" height="3.6" fill="#d20a0a"/>
<rect x="660.00" y="141.7" width="0.8" height="16.7" fill="#1e9ed2"/>
<rect x="661.25" y="145.8" width="0.8" height="4.4" fill="#d20a0a"/>
<rect x="662.50" y="149.1" width="0.8" height="13.3" fill="#d20a0a"/>
<rect x="663.75" y="151.1" width="0.8" height="10.7" fill="#1e9ed2"/>
<rect x="665.00" y="150.4" width="0.8" height="2.5" fill="#d20a0a"/>
<rect x="666.25" y="149.5" width="0.8" height="8.5" fill="#d20a0a"/>
<rect x="667.50" y="150.4" width="0.8" height="6.0" fill="#d20a0a"/>
<rect x="668.75" y="152.0" width="0.8" height="2.5" fill="#1e9ed2"/>
<rect x="670.00" y="139.4" width="0.8" height="13.2" fill="#1e9ed2"/>
<rect x="671.25" y="143.6" width="0.8" height="23.0" fill="#d20a0a"/>
<rect x="672.50" y="141.9" width="0.8" height="30.1" fill="#1e9ed2"/>
<rect x="673.75" y="146.4" width="0.8" height="11.7" fill="#1e9ed2"/>
<rect x="675.00" y="148.1" width="0.8" height="6.2" fill="#d20a0a"/>
<rect x="676.25" y="143.0" width="0.8" height="13.9" fill="#d20a0a"/>
<rect x="677.50" y="138.2" width="0.8" height="15.0" fill="#1e9ed2"/>
<rect x="678.75" y="144.5" width="0.8" height="3.7" fill="#1e9ed2"/>
<rect x="680.00" y="131.7" width="0.8" height="11.4" fill="#1e9ed2"/>
<rect x="681.25" y="138.6" width="0.8" height="2.8" fill="#d20a0a"/>
<rect x="682.50" y="133.1" width="0.8" height="6.5" fill="#1e9ed2"/>
<rect x="683.75" y="133.6" width="0.8" height="5.7" fill="#1e9ed2"/>
<rect x="685.00" y="130.1" width="0.8" height="9.1" fill="#1e9ed2"/>
<rect x="686.25" y="132.2" width="0.8" height="11.0" fill="#d20a0a"/>
<rect x="687.50" y="124.8" width="0.8" height="18.0" fill="#1e9ed2"/>
<rect x="688.75" y="135.7" width="0.8" height="1.5" fill="#1e9ed2"/>
<rect x="690.00" y="120.1" width="0.8" height="10.0" fill="#1e9ed2"/>
<rect x="691.25" y="115.6" width="0.8" height="8.9" fill="#1e9ed2"/>
<rect x="692.50" y="113.6" width="0.8" height="13.7" fill="#00b400"/>
<rect x="693.75" y="116.6" width="0.8" height="8.7" fill="#1e9ed2"/>
<rect x="695.00" y="118.8" width="0.8" height="4.0" fill="#d20a0a"/>
<rect x="696.25" y="117.2" width="0.8" height="8.9" fill="#d20a0a"/>
<rect x="697.50" y="130.0" width="0.8" height="11.7" fill="#d20a0a"/>
<rect x="698.75" y="135.9" width="0.8" height="4.2" fill="#d20a0a"/>
<rect x="700.00" y="136.9" width="0.8" height="18.8" fill="#d20a0a"/>
<rect x="701.25" y="142.2" width="0.8" height="4.0" fill="#d20a0a"/>
<rect x="702.50" y="147.5" width="0.8" height="15.8" fill="#d20a0a"/>
<rect x="703.75" y="146.9" width="0.8" height="8.9" fill="#d20a0a"/>
<rect x="705.00" y="143.7" width="0.8" height="15.6" fill="#1e9ed2"/>
<rect x="706.25" y="148.0" width="0.8" height="3.7" fill="#1e9ed2"/>
<rect x="707.50" y="114.2" width="0.8" height="29.6" fill="#1e9ed2"/>
<rect x="708.75" y="133.5" width="0.8" height="3.1" fill="#1e9ed2"/>
<rect x="710.00" y="112.6" width="0.8" height="17.0" fill="#1e9ed2"/>
<rect x="711.25" y="126.3" width="0.8" height="3.6" fill="#1e9ed2"/>
<rect x="712.50" y="118.6" width="0.8" height="13.9" fill="#d20a0a"/>
<rect x="713.75" y="125.5" width="0.8" height="8.5" fill="#1e9ed2"/>
<rect x="715.00" y="122.3" width="0.8" height="6.0" fill="#1e9ed2"/>
<rect x="716.25" y="117.7" width="0.8" height="17.4" fill="#1e9ed2"/>
<rect x="717.50" y="118.3" width="0.8" height="7.3" fill="#1e9ed2"/>
<rect x="718.75" y="106.4" width="0.8" height="22.9" fill="#1e9ed2"/>
<rect x="720.00" y="113.9" width="0.8" height="8.0" fill="#d20a0a"/>
<rect x="721.25" y="119.5" width="0.8" height="6.9" fill="#d20a0a"/>
<rect x="722.50" y="117.6" width="0.8" height="17.6" fill="#1e9ed2"/>
<rect x="723.75" y="121.2" width="0.8" height="4.6" fill="#1e9ed2"/>
<rect x="725.00" y="121.0" width="0.8" height="11.4" fill="#d20a0a"/>
<rect x="726.25" y="122.3" width="0.8" height="4.5" fill="#d20a0a"/>
<rect x="727.50" y="118.7" width="0.8" height="10.2" fill="#d20a0a"/>
<rect x="728.75" y="123.8" width="0.8" height="3.1" fill="#1e9ed2"/>
<rect x="730.00" y="121.7" width="0.8" height="6.0" fill="#1e9ed2"/>
<rect x="731.25" y="118.0" width="0.8" height="9.4" fill="#1e9ed2"/>
<rect x="732.50" y="117.7" width="0.8" height="13.0" fill="#d20a0a"/>
<rect x="733.75" y="113.0" width="0.8" height="19.9" fill="#1e9ed2"/>
<rect x="735.00" y="113.5" width="0.8" height="9.0" fill="#1e9ed2"/>
<rect x="736.25" y="116.0" width="0.8" height="5.6" fill="#d20a0a"/>
<rect x="737.50" y="118.5" width="0.8" height="8.8" fill="#1e9ed2"/>
<rect x="738.75" y="117.4" width="0.8" height="3.9" fill="#1e9ed2"/>
<rect x="740.00" y="117.4" width="0.8" height="13.1" fill="#d20a0a"/>
<rect x="741.25" y="121.8" width="0.8" height="4.5" fill="#d20a0a"/>
<rect x="742.50" y="115.4" width="0.8" height="10.3" fill="#1e9ed2"/>
<rect x="743.75" y="121.4" width="0.8" height="1.5" fill="#1e9ed2"/>
<rect x="745.00" y="116.7" width="0.8" height="1.9" fill="#1e9ed2"/>
<rect x="746.25" y="97.4" width="0.8" height="17.3" fill="#1e9ed2"/>
<rect x="747.50" y="100.6" width="0.8" height="11.8" fill="#1e9ed2"/>
<rect x="748.75" y="97.9" width="0.8" height="7.7" fill="#1e9ed2"/>
<rect x="750.00" y="85.6" width="0.8" height="20.6" fill="#1e9ed2"/>
<rect x="751.25" y="94.6" width="0.8" height="8.7" fill="#d20a0a"/>
<rect x="752.50" y="100.9" width="0.8" height="20.6" fill="#d20a0a"/>
</g>
<rect x="0" y="429" width="993" height="1" fill="#141300"/><rect x="0" y="430" width="993" height="1" fill="#908a00"/><rect x="0" y="431" width="993" height="1" fill="#2a2800"/>
<line x1="396.7" y1="215.5" x2="993" y2="215.5" stroke="#c8c800" stroke-width="1" stroke-dasharray="12,3.4"/>
<line x1="606.3" y1="216.8" x2="766.4" y2="133.5" stroke="#c8c000" stroke-width="1" stroke-dasharray="13,4.3"/>
<rect x="993" y="0" width="0.8" height="498" fill="#c0c0c0"/>
<rect x="993" y="30.5" width="2" height="1" fill="#c0c0c0"/>
<text transform="translate(997.2,34.5) scale(0.92,1)" class="ax">52.25</text>
<rect x="993" y="61.8" width="2" height="1" fill="#c0c0c0"/>
<text transform="translate(997.2,65.8) scale(0.92,1)" class="ax">50.85</text>
<rect x="993" y="93.5" width="2" height="1" fill="#c0c0c0"/>
<text transform="translate(997.2,97.5) scale(0.92,1)" class="ax">49.40</text>
<rect x="993" y="125.5" width="2" height="1" fill="#c0c0c0"/>
<text transform="translate(997.2,127.9) scale(0.92,1)" class="ax">48.00</text>
<rect x="993" y="157.5" width="2" height="1" fill="#c0c0c0"/>
<text transform="translate(997.2,161.5) scale(0.92,1)" class="ax">46.55</text>
<rect x="993" y="189.5" width="2" height="1" fill="#c0c0c0"/>
<text transform="translate(997.2,193.5) scale(0.92,1)" class="ax">45.15</text>
<rect x="993" y="221.5" width="2" height="1" fill="#c0c0c0"/>
<text transform="translate(997.2,225.5) scale(0.92,1)" class="ax">43.70</text>
<rect x="993" y="252.5" width="2" height="1" fill="#c0c0c0"/>
<text transform="translate(997.2,256.5) scale(0.92,1)" class="ax">42.30</text>
<rect x="993" y="284.5" width="2" height="1" fill="#c0c0c0"/>
<text transform="translate(997.2,288.5) scale(0.92,1)" class="ax">40.85</text>
<rect x="993" y="316.5" width="2" height="1" fill="#c0c0c0"/>
<text transform="translate(997.2,320.5) scale(0.92,1)" class="ax">39.45</text>
<rect x="993" y="348.5" width="2" height="1" fill="#c0c0c0"/>
<text transform="translate(997.2,352.5) scale(0.92,1)" class="ax">38.00</text>
<rect x="993" y="380.5" width="2" height="1" fill="#c0c0c0"/>
<text transform="translate(997.2,384.5) scale(0.92,1)" class="ax">36.55</text>
<rect x="993" y="412.5" width="2" height="1" fill="#c0c0c0"/>
<text transform="translate(997.2,416.5) scale(0.92,1)" class="ax">35.15</text>
<rect x="993" y="444.5" width="2" height="1" fill="#c0c0c0"/>
<text transform="translate(997.2,448.5) scale(0.92,1)" class="ax">33.70</text>
<rect x="993" y="476.0" width="2" height="1" fill="#c0c0c0"/>
<text transform="translate(997.2,480.0) scale(0.92,1)" class="ax">32.30</text>
<rect x="994.5" y="115" width="27" height="9" fill="#fff"/>
<text transform="translate(997.5,122.7) scale(0.92,1)" class="ax" style="fill:#000">48.28</text>
<rect x="994.5" y="426" width="27" height="9" fill="#ffff00"/>
<text transform="translate(997.7,434) scale(0.92,1)" class="ax" style="fill:#000">34.39</text>
<text transform="translate(304.5,40.9) scale(1.12,1)" class="t">Crude Oil (WTI)</text>
<text transform="translate(333,65.7) scale(1.12,1)" class="t">H4 Chart</text>
<text transform="translate(757.3,23.4) scale(1.15,1)" class="y">54.50</text>
<text transform="translate(744.5,153.9) scale(1.15,1)" class="y">47.30</text>
<text transform="translate(773.4,153.9) scale(1.062,1)" class="y">Daily close</text>
<text transform="translate(758.3,223.5) scale(1.15,1)" class="y">44.00</text>
<g stroke="#fff" stroke-width="1.7" fill="none" stroke-linecap="round">
<line x1="765.4" y1="140.9" x2="789.6" y2="38.8"/>
<polyline points="782.7,46.6 789.6,38.8 792.6,56.6"/>
</g>
<rect x="810" y="49" width="2.5" height="2" fill="#fff"/>
<g stroke="#18a0e6" stroke-width="2" fill="none" stroke-linecap="round">
<line x1="770.8" y1="164.6" x2="777.2" y2="205"/>
<polyline points="772,198.4 777.2,205 781.1,193"/>
</g>
</svg>
</body></html>
